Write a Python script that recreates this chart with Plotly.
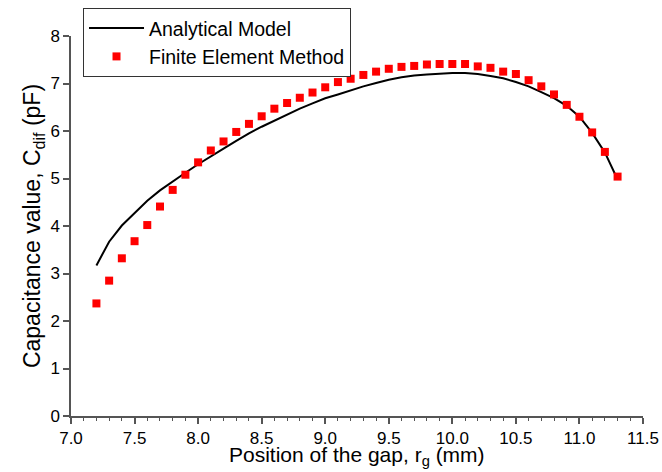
import plotly.graph_objects as go

# FEM data
fem_x = [7.2, 7.3, 7.4, 7.5, 7.6, 7.7, 7.8, 7.9, 8.0, 8.1, 8.2, 8.3, 8.4, 8.5, 8.6, 8.7,
         8.8, 8.9, 9.0, 9.1, 9.2, 9.3, 9.4, 9.5, 9.6, 9.7, 9.8, 9.9, 10.0, 10.1, 10.2,
         10.3, 10.4, 10.5, 10.6, 10.7, 10.8, 10.9, 11.0, 11.1, 11.2, 11.3]
fem_y = [2.37, 2.85, 3.32, 3.68, 4.02, 4.41, 4.76, 5.08, 5.34, 5.59, 5.78, 5.98, 6.15, 6.31,
         6.47, 6.59, 6.70, 6.81, 6.92, 7.03, 7.10, 7.18, 7.25, 7.31, 7.35, 7.37, 7.40, 7.41,
         7.41, 7.41, 7.36, 7.33, 7.25, 7.20, 7.07, 6.94, 6.77, 6.55, 6.30, 5.97, 5.56, 5.04]

# Analytical model
ana_x = fem_x
ana_y = [3.17, 3.67, 4.01, 4.28, 4.53, 4.75, 4.94, 5.12, 5.30, 5.47, 5.63, 5.79, 5.95, 6.09,
         6.22, 6.35, 6.47, 6.58, 6.69, 6.77, 6.86, 6.94, 7.01, 7.08, 7.13, 7.17, 7.19, 7.21,
         7.22, 7.22, 7.20, 7.16, 7.11, 7.03, 6.94, 6.82, 6.69, 6.53, 6.30, 5.96, 5.55, 4.98]

x_ticks = [7.0, 7.5, 8.0, 8.5, 9.0, 9.5, 10.0, 10.5, 11.0, 11.5]
y_ticks = [0, 1, 2, 3, 4, 5, 6, 7, 8]

x_title = "Position of the gap, r<sub>g</sub> (mm)"
y_title = "Capacitance value, C<sub>dif</sub> (pF)"

FONT = "Liberation Sans, Arial, sans-serif"

fig = go.Figure()
fig.add_trace(go.Scatter(x=ana_x, y=ana_y, mode="lines", name="Analytical Model",
                         line=dict(color="black", width=2)))
fig.add_trace(go.Scatter(x=fem_x, y=fem_y, mode="markers", name="Finite Element Method",
                         marker=dict(symbol="square", size=8, color="#ff0000")))

axis_color = "#555555"
fig.update_layout(
    width=662, height=472,
    margin=dict(l=71, r=19, t=36, b=56, autoexpand=False),
    paper_bgcolor="white", plot_bgcolor="white",
    font=dict(family=FONT, size=17, color="black"),
    showlegend=True,
    legend=dict(x=0.021, y=1.074, xanchor="left", yanchor="top",
                bordercolor="#333333", borderwidth=1, bgcolor="white",
                font=dict(size=19.5), tracegroupgap=0, itemwidth=55),
    xaxis=dict(range=[7.0, 11.5], tickmode="array", tickvals=x_ticks,
               ticktext=[f"{v:.1f}" for v in x_ticks], automargin=False,
               showline=True, linecolor=axis_color, linewidth=1.5,
               ticks="outside", ticklen=6, tickcolor=axis_color, tickwidth=1.5,
               minor=dict(dtick=0.1, ticks="outside", ticklen=3, tickcolor=axis_color, tickwidth=1),
               showgrid=False, zeroline=False, mirror=False,
               tickfont=dict(size=17)),
    yaxis=dict(range=[0, 8], tickmode="array", tickvals=y_ticks, automargin=False,
               showline=True, linecolor=axis_color, linewidth=1.5,
               ticks="outside", ticklen=6, tickcolor=axis_color, tickwidth=1.5,
               showgrid=False, zeroline=False, mirror=False,
               tickfont=dict(size=17),
               title=dict(text=y_title, font=dict(size=23), standoff=3)),
    annotations=[dict(text=x_title, xref="paper", yref="paper", x=0.5, y=-0.066,
                      xanchor="center", yanchor="top", showarrow=False,
                      font=dict(size=21, family=FONT, color="black"))],
)

fig.write_html("out.html")
